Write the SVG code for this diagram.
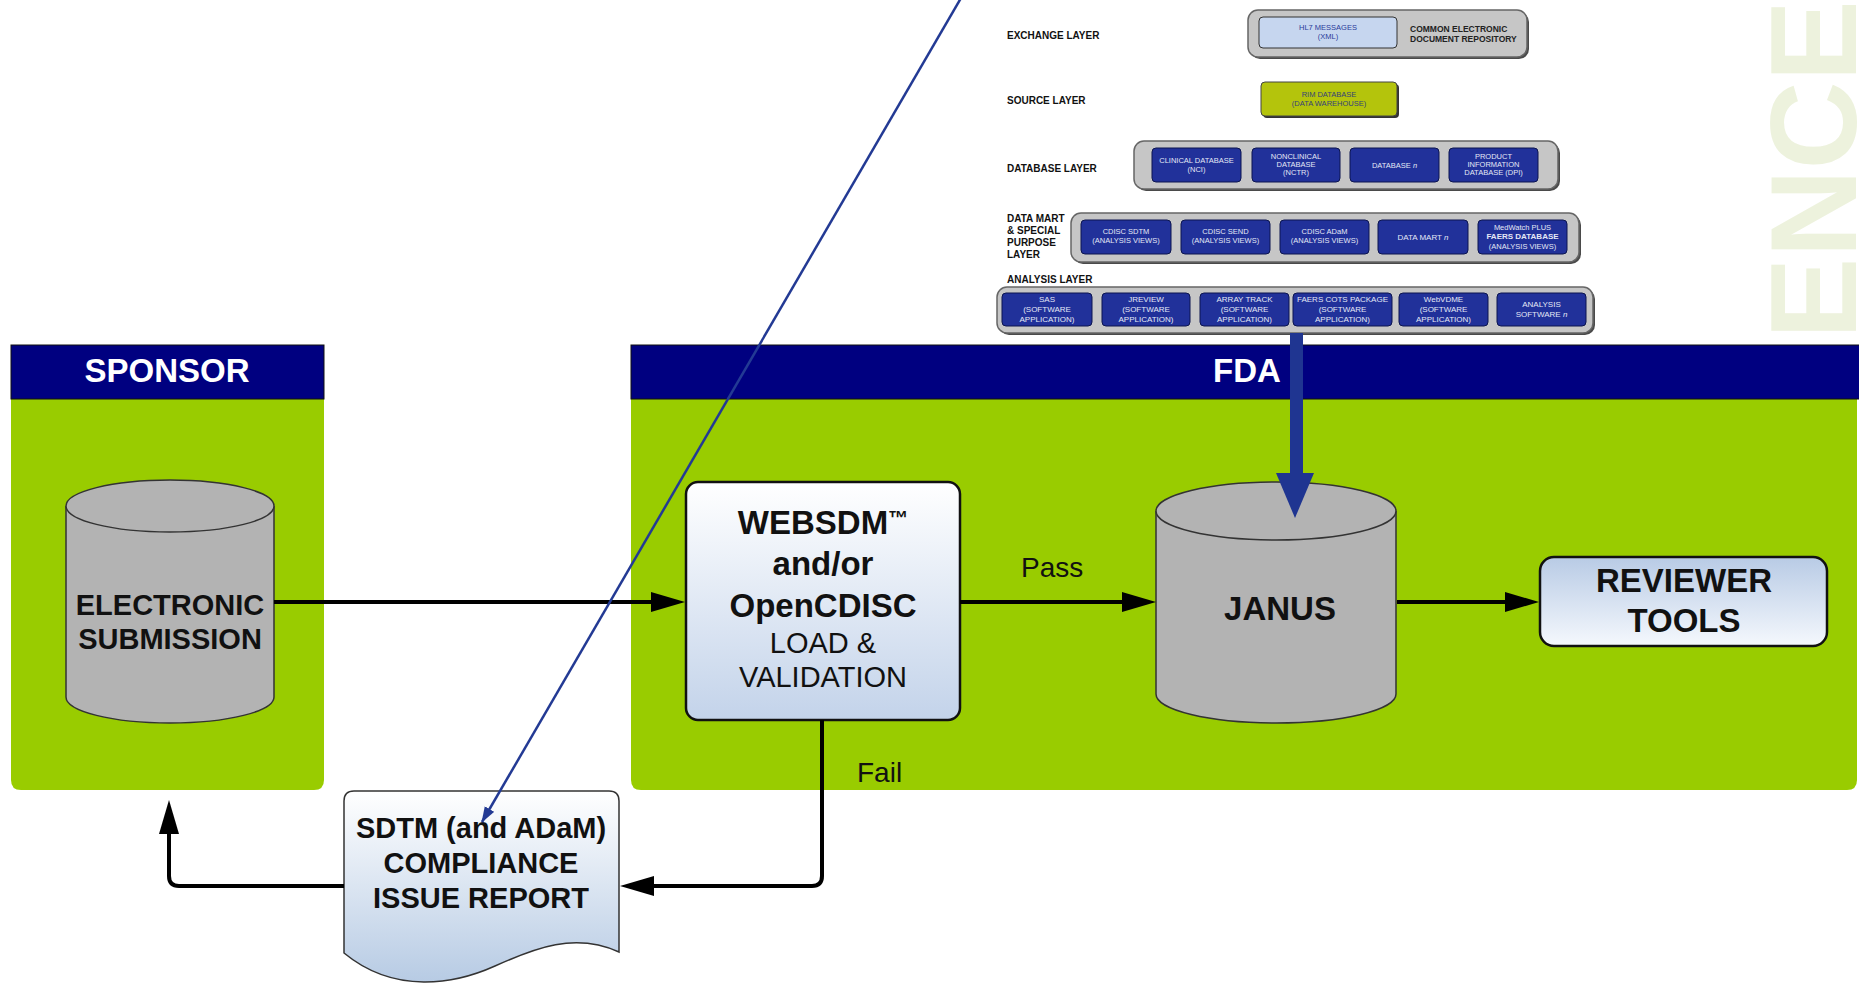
<svg xmlns="http://www.w3.org/2000/svg" width="1859" height="985" viewBox="0 0 1859 985">
<defs>
<style>
.hdr{fill:#000080;stroke:#111;stroke-width:1}
.body{fill:#99cc00}
.htxt{font-family:"Liberation Sans",Arial,sans-serif;font-weight:bold;font-size:33px;fill:#fff;text-anchor:middle}
.big{font-family:"Liberation Sans",Arial,sans-serif;font-weight:bold;font-size:33px;fill:#111;text-anchor:middle}
.mid{font-family:"Liberation Sans",Arial,sans-serif;font-size:29px;fill:#111;text-anchor:middle}
.lbl{font-family:"Liberation Sans",Arial,sans-serif;font-size:28px;fill:#111}
.cyl{fill:#b3b3b3;stroke:#333;stroke-width:1.5}
.lay{font-family:"Liberation Sans",Arial,sans-serif;font-weight:bold;font-size:10px;fill:#111}
.gbox{fill:#c6c6c6;stroke:#666;stroke-width:1.5}
.gsh{fill:#4a4a4a}
.bbox{fill:#21319a;stroke:#0c1550;stroke-width:1}
.bt{font-family:"Liberation Sans",Arial,sans-serif;font-size:7.5px;fill:#e4e8f6;text-anchor:middle}
.bt8{font-family:"Liberation Sans",Arial,sans-serif;font-size:8px;fill:#e4e8f6;text-anchor:middle}
.conn{fill:none;stroke:#000;stroke-width:4}
</style>
<linearGradient id="gWeb" x1="0" y1="0" x2="0" y2="1"><stop offset="0" stop-color="#ffffff"/><stop offset="1" stop-color="#c3d3ea"/></linearGradient>
<linearGradient id="gRev" x1="0" y1="0" x2="0" y2="1"><stop offset="0" stop-color="#b8cbe5"/><stop offset="1" stop-color="#f5f8fd"/></linearGradient>
<linearGradient id="gDoc" x1="0" y1="0" x2="0" y2="1"><stop offset="0" stop-color="#ffffff"/><stop offset="1" stop-color="#b7cbe4"/></linearGradient>
<marker id="ah" markerUnits="userSpaceOnUse" markerWidth="34" markerHeight="22" refX="4" refY="11" orient="auto"><path d="M0,1 L34,11 L0,21 Z" fill="#000"/></marker>
<marker id="ahb" markerUnits="userSpaceOnUse" markerWidth="16" markerHeight="12" refX="15" refY="6" orient="auto"><path d="M0,0.5 L16,6 L0,11.5 Z" fill="#233a94"/></marker>
</defs>

<rect width="1859" height="985" fill="#fff"/>

<g id="watermark">
<text transform="translate(1856,0) rotate(-90)" x="0" y="0" text-anchor="end" font-family="Liberation Sans, Arial, sans-serif" font-weight="bold" font-size="122" fill="#edf2dd">ENCE</text>
</g>

<g id="sponsor-panel">
<path class="body" d="M11,399 H324 V780 Q324,790 314,790 H21 Q11,790 11,780 Z"/>
<rect class="hdr" x="11" y="345" width="313" height="54"/>
<text class="htxt" x="167" y="382">SPONSOR</text>
</g>

<g id="fda-panel">
<path class="body" d="M631,399 H1857 V780 Q1857,790 1847,790 H641 Q631,790 631,780 Z"/>
<rect class="hdr" x="631" y="345" width="1230" height="54"/>
<text class="htxt" x="1247" y="382">FDA</text>
</g>

<g id="exchange-layer">
<text class="lay" x="1007" y="39">EXCHANGE LAYER</text>
<rect class="gsh" x="1250" y="12" width="279" height="47" rx="10"/>
<rect class="gbox" x="1248" y="10" width="279" height="47" rx="10"/>
<rect x="1259" y="17" width="138" height="31" rx="4" fill="#c6d6ef" stroke="#333" stroke-width="1"/>
<text class="bt" x="1328" y="30" style="fill:#2a3a9a">HL7 MESSAGES</text>
<text class="bt" x="1328" y="39" style="fill:#2a3a9a">(XML)</text>
<text x="1410" y="32" font-family="Liberation Sans, Arial, sans-serif" font-weight="bold" font-size="8.5" fill="#222">COMMON ELECTRONIC</text>
<text x="1410" y="42" font-family="Liberation Sans, Arial, sans-serif" font-weight="bold" font-size="8.5" fill="#222">DOCUMENT REPOSITORY</text>
</g>

<g id="source-layer">
<text class="lay" x="1007" y="104">SOURCE LAYER</text>
<rect x="1263" y="84" width="136" height="34" rx="4" fill="#333"/>
<rect x="1261" y="82" width="136" height="34" rx="4" fill="#b4c40c" stroke="#444" stroke-width="1"/>
<text class="bt" x="1329" y="97" style="fill:#34427a">RIM DATABASE</text>
<text class="bt" x="1329" y="106" style="fill:#34427a">(DATA WAREHOUSE)</text>
</g>

<g id="database-layer">
<text class="lay" x="1007" y="172">DATABASE LAYER</text>
<rect class="gsh" x="1136" y="143" width="424" height="48" rx="10"/>
<rect class="gbox" x="1134" y="141" width="424" height="48" rx="10"/>
<rect class="bbox" x="1152" y="148" width="89" height="34" rx="4"/>
<text class="bt" x="1196.5" y="163">CLINICAL DATABASE</text>
<text class="bt" x="1196.5" y="172">(NCI)</text>
<rect class="bbox" x="1252" y="148" width="88" height="34" rx="4"/>
<text class="bt" x="1296" y="159">NONCLINICAL</text>
<text class="bt" x="1296" y="167">DATABASE</text>
<text class="bt" x="1296" y="175">(NCTR)</text>
<rect class="bbox" x="1350" y="148" width="89" height="34" rx="4"/>
<text class="bt" x="1394.5" y="168">DATABASE <tspan font-style="italic">n</tspan></text>
<rect class="bbox" x="1449" y="148" width="89" height="34" rx="4"/>
<text class="bt" x="1493.5" y="159">PRODUCT</text>
<text class="bt" x="1493.5" y="167">INFORMATION</text>
<text class="bt" x="1493.5" y="175">DATABASE (DPI)</text>
</g>

<g id="datamart-layer">
<text class="lay" x="1007" y="222">DATA MART</text>
<text class="lay" x="1007" y="234">&amp; SPECIAL</text>
<text class="lay" x="1007" y="246">PURPOSE</text>
<text class="lay" x="1007" y="258">LAYER</text>
<rect class="gsh" x="1073" y="215" width="508" height="49" rx="10"/>
<rect class="gbox" x="1071" y="213" width="508" height="49" rx="10"/>
<rect class="bbox" x="1081" y="220" width="90" height="34" rx="4"/>
<text class="bt" x="1126" y="234">CDISC SDTM</text>
<text class="bt" x="1126" y="243">(ANALYSIS VIEWS)</text>
<rect class="bbox" x="1181" y="220" width="89" height="34" rx="4"/>
<text class="bt" x="1225.5" y="234">CDISC SEND</text>
<text class="bt" x="1225.5" y="243">(ANALYSIS VIEWS)</text>
<rect class="bbox" x="1280" y="220" width="89" height="34" rx="4"/>
<text class="bt" x="1324.5" y="234">CDISC ADaM</text>
<text class="bt" x="1324.5" y="243">(ANALYSIS VIEWS)</text>
<rect class="bbox" x="1378" y="220" width="90" height="34" rx="4"/>
<text class="bt8" x="1423" y="240">DATA MART <tspan font-style="italic">n</tspan></text>
<rect class="bbox" x="1478" y="220" width="89" height="34" rx="4"/>
<text class="bt" x="1522.5" y="230">MedWatch PLUS</text>
<text class="bt8" x="1522.5" y="239" font-weight="bold">FAERS DATABASE</text>
<text class="bt" x="1522.5" y="249">(ANALYSIS VIEWS)</text>
</g>

<g id="analysis-layer">
<text class="lay" x="1007" y="283">ANALYSIS LAYER</text>
<rect class="gsh" x="999" y="289" width="596" height="46" rx="10"/>
<rect class="gbox" x="997" y="287" width="596" height="46" rx="10"/>
<rect class="bbox" x="1002" y="293" width="90" height="33" rx="4"/>
<text class="bt8" x="1047" y="302">SAS</text>
<text class="bt8" x="1047" y="312">(SOFTWARE</text>
<text class="bt8" x="1047" y="322">APPLICATION)</text>
<rect class="bbox" x="1102" y="293" width="88" height="33" rx="4"/>
<text class="bt8" x="1146" y="302">JREVIEW</text>
<text class="bt8" x="1146" y="312">(SOFTWARE</text>
<text class="bt8" x="1146" y="322">APPLICATION)</text>
<rect class="bbox" x="1200" y="293" width="89" height="33" rx="4"/>
<text class="bt8" x="1244.5" y="302">ARRAY TRACK</text>
<text class="bt8" x="1244.5" y="312">(SOFTWARE</text>
<text class="bt8" x="1244.5" y="322">APPLICATION)</text>
<rect class="bbox" x="1293" y="293" width="99" height="33" rx="4"/>
<text class="bt8" x="1342.5" y="302">FAERS COTS PACKAGE</text>
<text class="bt8" x="1342.5" y="312">(SOFTWARE</text>
<text class="bt8" x="1342.5" y="322">APPLICATION)</text>
<rect class="bbox" x="1399" y="293" width="89" height="33" rx="4"/>
<text class="bt8" x="1443.5" y="302">WebVDME</text>
<text class="bt8" x="1443.5" y="312">(SOFTWARE</text>
<text class="bt8" x="1443.5" y="322">APPLICATION)</text>
<rect class="bbox" x="1497" y="293" width="89" height="33" rx="4"/>
<text class="bt8" x="1541.5" y="307">ANALYSIS</text>
<text class="bt8" x="1541.5" y="317">SOFTWARE <tspan font-style="italic">n</tspan></text>
</g>

<g id="electronic-submission">
<path class="cyl" d="M66,506 V697 A104,26 0 0 0 274,697 V506"/>
<ellipse class="cyl" cx="170" cy="506" rx="104" ry="26"/>
<text class="big" x="170" y="615" style="font-size:29px">ELECTRONIC</text>
<text class="big" x="170" y="649" style="font-size:29px">SUBMISSION</text>
</g>

<g id="websdm">
<rect x="686" y="482" width="274" height="238" rx="12" fill="url(#gWeb)" stroke="#111" stroke-width="2.5"/>
<text class="big" x="823" y="534">WEBSDM<tspan font-size="20" dy="-9">™</tspan></text>
<text class="big" x="823" y="575">and/or</text>
<text class="big" x="823" y="617">OpenCDISC</text>
<text class="mid" x="823" y="653">LOAD &amp;</text>
<text class="mid" x="823" y="687">VALIDATION</text>
</g>

<g id="janus">
<path class="cyl" d="M1156,511 V694 A120,29 0 0 0 1396,694 V511"/>
<ellipse class="cyl" cx="1276" cy="511" rx="120" ry="29"/>
<text class="big" x="1280" y="620">JANUS</text>
</g>

<g id="reviewer-tools">
<rect x="1540" y="557" width="287" height="89" rx="14" fill="url(#gRev)" stroke="#111" stroke-width="2.5"/>
<text class="big" x="1684" y="592">REVIEWER</text>
<text class="big" x="1684" y="632">TOOLS</text>
</g>

<g id="compliance-report">
<path d="M344,801 Q344,791 354,791 H609 Q619,791 619,801 V952 C575,932 535,948 495,966 C455,984 395,995 344,953 Z" fill="url(#gDoc)" stroke="#333" stroke-width="1.5"/>
<text class="big" x="481" y="838" style="font-size:29px">SDTM (and ADaM)</text>
<text class="big" x="481" y="873" style="font-size:29px">COMPLIANCE</text>
<text class="big" x="481" y="908" style="font-size:29px">ISSUE REPORT</text>
</g>

<g id="connectors">
<path class="conn" d="M274,602 H655" marker-end="url(#ah)"/>
<path class="conn" d="M960,602 H1126" marker-end="url(#ah)"/>
<text class="lbl" x="1021" y="577">Pass</text>
<path class="conn" d="M1397,602 H1509" marker-end="url(#ah)"/>
<path class="conn" d="M822,720 V876 Q822,886 812,886 H650" marker-end="url(#ah)"/>
<text class="lbl" x="857" y="782">Fail</text>
<path class="conn" d="M344,886 H179 Q169,886 169,876 V830" marker-end="url(#ah)"/>
<rect x="1290" y="333" width="13" height="142" fill="#1f3591"/>
<polygon points="1276,473 1314,473 1295,518" fill="#1f3591"/>
<path d="M961,-2 L482,822" fill="none" stroke="#233a94" stroke-width="2.5" marker-end="url(#ahb)"/>
</g>
</svg>
